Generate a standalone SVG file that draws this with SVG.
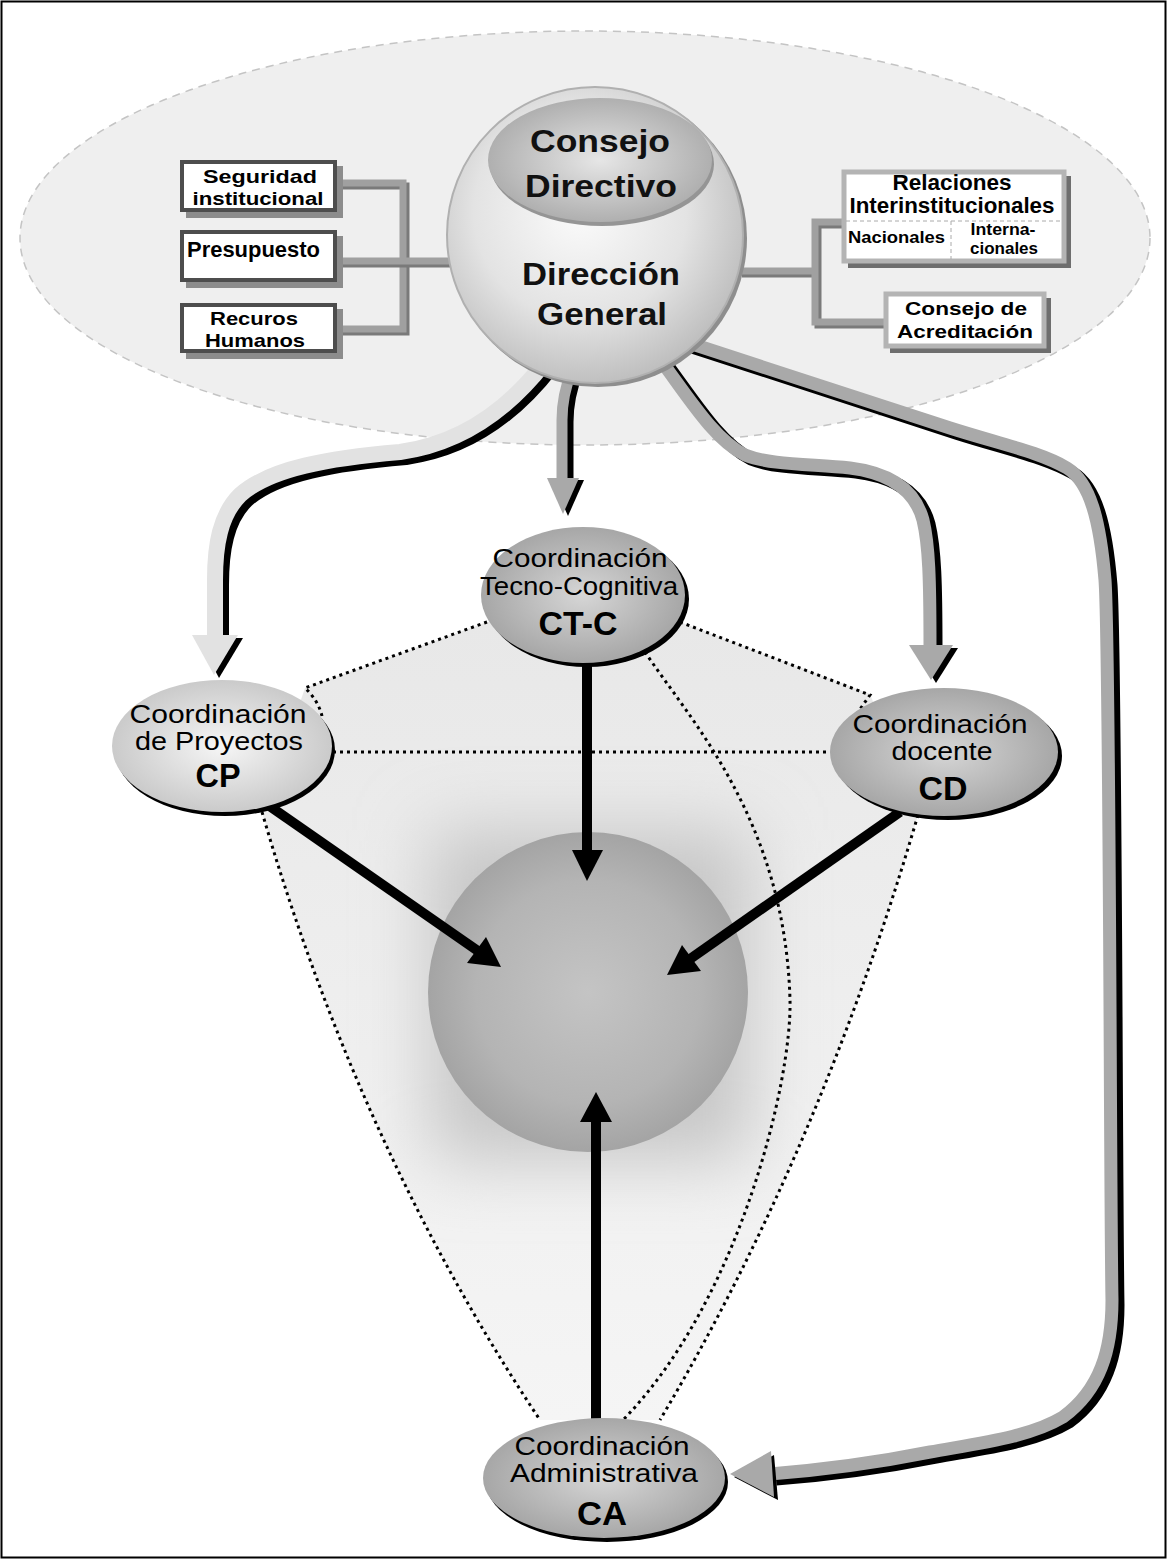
<svg xmlns="http://www.w3.org/2000/svg" width="1167" height="1559" viewBox="0 0 1167 1559">
<defs>
<style>
.box{fill:#fff;stroke:#4d4d4d;stroke-width:4}
.boxsh{fill:#8c8c8c}
.rbox{fill:#fff;stroke:#b4b4b4;stroke-width:5}
.rboxsh{fill:#6e6e6e}
.bt{font-family:"Liberation Sans Narrow","Liberation Sans",Arial,sans-serif;font-weight:bold;font-size:22px;fill:#000}
.b2{font-family:"Liberation Sans Narrow","Liberation Sans",Arial,sans-serif;font-weight:bold;font-size:19px;fill:#000}
.bs{font-family:"Liberation Sans Narrow","Liberation Sans",Arial,sans-serif;font-weight:bold;font-size:16px;fill:#000}
.nt{font-family:"Liberation Sans",Arial,sans-serif;font-size:26px;fill:#000}
.nb{font-family:"Liberation Sans",Arial,sans-serif;font-weight:bold;font-size:33px;fill:#000}
.dg{font-family:"Liberation Sans",Arial,sans-serif;font-weight:bold;font-size:32px;fill:#111}
.dot{fill:none;stroke:#000;stroke-width:3;stroke-dasharray:3 4}
.conn{fill:none;stroke:#a0a0a0;stroke-width:7}
.connd{fill:none;stroke:#7a7a7a;stroke-width:7}
.band{fill:none;stroke:#a9a9a9;stroke-linejoin:round}
.pale{fill:none;stroke:#e2e2e2;stroke-linejoin:round}
.sh{fill:none;stroke:#000;stroke-linejoin:round}
.blk{stroke:#000;stroke-width:10;fill:none}
</style>
<radialGradient id="gDG" cx="0.45" cy="0.42" r="0.6">
<stop offset="0" stop-color="#fbfbfb"/><stop offset="0.6" stop-color="#e3e3e3"/><stop offset="1" stop-color="#bdbdbd"/>
</radialGradient>
<radialGradient id="gCons" cx="0.5" cy="0.5" r="0.55">
<stop offset="0" stop-color="#e6e6e6"/><stop offset="1" stop-color="#aaaaaa"/>
</radialGradient>
<radialGradient id="gNode" cx="0.5" cy="0.5" r="0.55">
<stop offset="0" stop-color="#d6d6d6"/><stop offset="1" stop-color="#a2a2a2"/>
</radialGradient>
<radialGradient id="gCP" cx="0.5" cy="0.5" r="0.55">
<stop offset="0" stop-color="#f6f6f6"/><stop offset="1" stop-color="#c6c6c6"/>
</radialGradient>
<radialGradient id="gSph" cx="0.5" cy="0.5" r="0.5">
<stop offset="0" stop-color="#c4c4c4"/><stop offset="0.7" stop-color="#b4b4b4"/><stop offset="1" stop-color="#a4a4a4"/>
</radialGradient>
<linearGradient id="gFun" x1="0" y1="0" x2="0" y2="1">
<stop offset="0" stop-color="#e8e8e8"/><stop offset="1" stop-color="#f5f5f5"/>
</linearGradient>
<filter id="blur" x="-50%" y="-50%" width="200%" height="200%"><feGaussianBlur stdDeviation="35"/></filter>
<clipPath id="funClip"><path d="M 262,812 L 305,688 L 487,622 L 680,622 L 870,694 L 918,815 Q 820,1150 660,1420 L 540,1420 Q 360,1150 262,812 Z"/></clipPath>
</defs>

<rect x="0" y="0" width="1167" height="1559" fill="#fff"/>
<rect x="1.5" y="1.5" width="1164" height="1556" fill="none" stroke="#000" stroke-width="2"/>

<g id="background">
<ellipse cx="585" cy="238" rx="565" ry="207" fill="#efefef" stroke="#c4c4c4" stroke-width="1.5" stroke-dasharray="8 6"/>
<path d="M 262,812 L 305,688 L 487,622 L 680,622 L 870,694 L 918,815 Q 820,1150 660,1420 L 540,1420 Q 360,1150 262,812 Z" fill="url(#gFun)"/>
<g clip-path="url(#funClip)"><rect x="430" y="830" width="320" height="330" fill="#c6c6c6" filter="url(#blur)"/></g>
</g>

<g id="center-sphere">
<circle cx="588" cy="992" r="160" fill="url(#gSph)"/>
</g>

<g id="connectors">
<path class="dot" d="M 487,622 L 305,688 Q 318,700 322,716"/>
<path class="dot" d="M 680,622 L 870,695 L 858,712"/>
<path class="dot" d="M 333,752 H 830"/>
<path class="dot" d="M 262,812 Q 360,1150 540,1420"/>
<path class="dot" d="M 918,815 Q 820,1150 660,1420"/>
<path class="dot" d="M 645,652 C 690,720 785,820 790,1000 C 792,1080 740,1300 623,1420"/>

<line class="blk" x1="587" y1="655" x2="587" y2="855"/>
<polygon points="572,850 603,850 587,881"/>
<line class="blk" x1="268" y1="805" x2="478" y2="951"/>
<polygon points="467,963 486,937 501,967"/>
<line class="blk" x1="900" y1="812" x2="690" y2="959"/>
<polygon points="701,971 682,945 667,975"/>
<line class="blk" x1="596" y1="1420" x2="596" y2="1118"/>
<polygon points="580,1122 612,1122 596,1092"/>

<path class="sh" stroke-width="16" transform="translate(6,5)" d="M 545,362 C 500,420 450,445 400,452 C 330,458 270,468 240,495 C 220,515 215,545 215,580 L 215,636"/>
<path class="pale" stroke-width="16" d="M 545,362 C 500,420 450,445 400,452 C 330,458 270,468 240,495 C 220,515 215,545 215,580 L 215,636"/>
<polygon points="198,638 243,638 219,678" fill="#000"/>
<polygon points="192,635 238,635 214,675" fill="#e2e2e2"/>

<path class="sh" stroke-width="11" transform="translate(6,2)" d="M 572,370 Q 562,395 562,420 L 562,479"/>
<path class="band" stroke-width="11" d="M 572,370 Q 562,395 562,420 L 562,479"/>
<polygon points="552,480 584,480 568,516" fill="#000"/>
<polygon points="547,478 579,478 563,514" fill="#a9a9a9"/>

<path class="sh" stroke-width="13" transform="translate(6,4)" d="M 662,362 C 690,400 715,440 745,455 C 770,465 810,464 850,468 C 890,473 915,490 923,520 C 929,545 930,580 930,646"/>
<path class="band" stroke-width="13" d="M 662,362 C 690,400 715,440 745,455 C 770,465 810,464 850,468 C 890,473 915,490 923,520 C 929,545 930,580 930,646"/>
<polygon points="914,648 958,648 936,683" fill="#000"/>
<polygon points="909,645 953,645 931,680" fill="#a9a9a9"/>

<path class="sh" stroke-width="13" transform="translate(6,5)" d="M 680,340 L 950,428 C 1000,444 1040,452 1067,468 C 1090,482 1100,520 1105,580 C 1110,650 1110,1200 1112,1300 C 1112,1350 1100,1390 1063,1417 C 1030,1437 980,1443 930,1452 C 880,1462 820,1470 770,1474"/>
<path class="band" stroke-width="13" d="M 680,340 L 950,428 C 1000,444 1040,452 1067,468 C 1090,482 1100,520 1105,580 C 1110,650 1110,1200 1112,1300 C 1112,1350 1100,1390 1063,1417 C 1030,1437 980,1443 930,1452 C 880,1462 820,1470 770,1474"/>
<polygon points="774,1455 778,1500 734,1477" fill="#000"/>
<polygon points="771,1451 774,1497 730,1474" fill="#a9a9a9"/>

<path class="connd" d="M 337,186 H 406 V 332 H 337" />
<path class="conn" d="M 337,183 H 403 V 329 H 337" />
<path class="connd" d="M 337,264 H 452" />
<path class="conn" d="M 337,261 H 452" />
<path class="connd" d="M 742,274 H 815" />
<path class="conn" d="M 742,271 H 815" />
<path class="connd" d="M 845,225 H 818 V 325 H 887" />
<path class="conn" d="M 845,222 H 815 V 322 H 887" />
</g>

<g id="node-seguridad">
<rect class="boxsh" x="186" y="166" width="157" height="52"/>
<rect class="box" x="182" y="162" width="153" height="48"/>
<text class="b2" x="260" y="183" text-anchor="middle" textLength="114" lengthAdjust="spacingAndGlyphs">Seguridad</text>
<text class="b2" x="258" y="205" text-anchor="middle" textLength="131" lengthAdjust="spacingAndGlyphs">institucional</text>
</g>
<g id="node-presupuesto">
<rect class="boxsh" x="186" y="236" width="157" height="52"/>
<rect class="box" x="182" y="232" width="153" height="48"/>
<text class="bt" x="187" y="257" textLength="133" lengthAdjust="spacingAndGlyphs">Presupuesto</text>
</g>
<g id="node-recursos">
<rect class="boxsh" x="186" y="309" width="157" height="50"/>
<rect class="box" x="182" y="305" width="153" height="46"/>
<text class="b2" x="254" y="325" text-anchor="middle" textLength="88" lengthAdjust="spacingAndGlyphs">Recuros</text>
<text class="b2" x="255" y="347" text-anchor="middle" textLength="100" lengthAdjust="spacingAndGlyphs">Humanos</text>
</g>

<g id="node-relaciones">
<rect class="rboxsh" x="848" y="176" width="223" height="92"/>
<rect class="rbox" x="844" y="172" width="220" height="89"/>
<line x1="846" y1="221" x2="1062" y2="221" stroke="#aaa" stroke-width="1" stroke-dasharray="4 3"/>
<line x1="951" y1="221" x2="951" y2="259" stroke="#aaa" stroke-width="1" stroke-dasharray="4 3"/>
<text class="bt" x="952" y="190" text-anchor="middle" textLength="119" lengthAdjust="spacingAndGlyphs">Relaciones</text>
<text class="bt" x="952" y="213" text-anchor="middle" textLength="205" lengthAdjust="spacingAndGlyphs">Interinstitucionales</text>
<text class="bs" x="848" y="243" textLength="97" lengthAdjust="spacingAndGlyphs">Nacionales</text>
<text class="bs" x="1003" y="235" text-anchor="middle" textLength="65" lengthAdjust="spacingAndGlyphs">Interna-</text>
<text class="bs" x="1004" y="254" text-anchor="middle" textLength="68" lengthAdjust="spacingAndGlyphs">cionales</text>
</g>
<g id="node-acreditacion">
<rect class="rboxsh" x="890" y="298" width="161" height="55"/>
<rect class="rbox" x="886" y="294" width="158" height="52"/>
<text class="b2" x="966" y="315" text-anchor="middle" textLength="122" lengthAdjust="spacingAndGlyphs">Consejo de</text>
<text class="b2" x="965" y="338" text-anchor="middle" textLength="136" lengthAdjust="spacingAndGlyphs">Acreditación</text>
</g>

<g id="node-direccion-general">
<circle cx="598" cy="238" r="149" fill="#8e8e8e"/>
<circle cx="595" cy="235" r="148" fill="url(#gDG)" stroke="#b0b0b0" stroke-width="2"/>
<ellipse cx="602" cy="164" rx="112" ry="62" fill="#959595"/>
<ellipse cx="600" cy="160" rx="112" ry="62" fill="url(#gCons)"/>
<text class="dg" x="600" y="152" text-anchor="middle" textLength="140" lengthAdjust="spacingAndGlyphs">Consejo</text>
<text class="dg" x="601" y="197" text-anchor="middle" textLength="152" lengthAdjust="spacingAndGlyphs">Directivo</text>
<text class="dg" x="601" y="285" text-anchor="middle" textLength="158" lengthAdjust="spacingAndGlyphs">Dirección</text>
<text class="dg" x="602" y="325" text-anchor="middle" textLength="130" lengthAdjust="spacingAndGlyphs">General</text>
</g>

<g id="node-ctc">
<ellipse cx="587" cy="599" rx="102" ry="68" fill="#000"/>
<ellipse cx="583" cy="595" rx="102" ry="68" fill="url(#gNode)"/>
<text class="nt" x="580" y="567" text-anchor="middle" textLength="175" lengthAdjust="spacingAndGlyphs">Coordinación</text>
<text class="nt" x="579" y="595" text-anchor="middle" textLength="198" lengthAdjust="spacingAndGlyphs">Tecno-Cognitiva</text>
<text class="nb" x="578" y="635" text-anchor="middle" textLength="79" lengthAdjust="spacingAndGlyphs">CT-C</text>
</g>

<g id="node-cp">
<ellipse cx="225" cy="750" rx="110" ry="66" fill="#000"/>
<ellipse cx="222" cy="746" rx="110" ry="66" fill="url(#gCP)"/>
<text class="nt" x="218" y="723" text-anchor="middle" textLength="177" lengthAdjust="spacingAndGlyphs">Coordinación</text>
<text class="nt" x="219" y="750" text-anchor="middle" textLength="168" lengthAdjust="spacingAndGlyphs">de Proyectos</text>
<text class="nb" x="218" y="787" text-anchor="middle" textLength="45" lengthAdjust="spacingAndGlyphs">CP</text>
</g>

<g id="node-cd">
<ellipse cx="948" cy="756" rx="114" ry="64" fill="#000"/>
<ellipse cx="944" cy="752" rx="114" ry="64" fill="url(#gNode)"/>
<text class="nt" x="940" y="733" text-anchor="middle" textLength="175" lengthAdjust="spacingAndGlyphs">Coordinación</text>
<text class="nt" x="942" y="760" text-anchor="middle" textLength="101" lengthAdjust="spacingAndGlyphs">docente</text>
<text class="nb" x="943" y="800" text-anchor="middle" textLength="49" lengthAdjust="spacingAndGlyphs">CD</text>
</g>

<g id="node-ca">
<ellipse cx="607" cy="1482" rx="121" ry="60" fill="#000"/>
<ellipse cx="604" cy="1478" rx="121" ry="60" fill="url(#gNode)"/>
<text class="nt" x="602" y="1455" text-anchor="middle" textLength="175" lengthAdjust="spacingAndGlyphs">Coordinación</text>
<text class="nt" x="604" y="1482" text-anchor="middle" textLength="188" lengthAdjust="spacingAndGlyphs">Administrativa</text>
<text class="nb" x="602" y="1525" text-anchor="middle" textLength="50" lengthAdjust="spacingAndGlyphs">CA</text>
</g>
</svg>
